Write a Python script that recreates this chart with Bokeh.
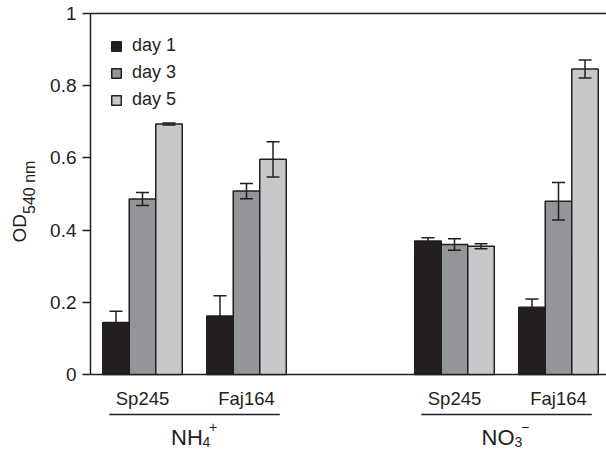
from math import pi
from bokeh.plotting import figure
from bokeh.models import (Range1d, FixedTicker, Whisker, ColumnDataSource, Legend, LegendItem,
                          TeeHead, LinearAxis)
from bokeh.core.properties import value
from bokeh.embed import file_html
from bokeh.resources import INLINE

# ---------------- data ----------------
strains = ["Sp245", "Faj164", "Sp245", "Faj164"]
cluster_pos = [0, 1, 3, 4]
ion_base = ["NH", "NO"]
ion_sub = ["4", "3"]
ion_sup = ["+", "\u2212"]
ion_mid = [0.5, 3.5]
days = ["day 1", "day 3", "day 5"]
day1 = [0.144, 0.162, 0.370, 0.186]
day1_err = [0.031, 0.056, 0.009, 0.023]
day3 = [0.486, 0.508, 0.360, 0.480]
day3_err = [0.018, 0.021, 0.016, 0.052]
day5 = [0.694, 0.596, 0.355, 0.846]
day5_err = [0.003, 0.049, 0.007, 0.025]
y_ticks = [0, 0.2, 0.4, 0.6, 0.8, 1.0]
y_tick_labels = ["0", "0.2", "0.4", "0.6", "0.8", "1"]

# ---------------- layout / style ----------------
colors = ["#231f20", "#939598", "#c7c8ca"]
ink = "#231f20"
FONT = "Liberation Sans"
W, H = 606, 452
X0, PXU = 142.0, 104.0   # pixel of first cluster centre, pixels per x unit
Y0, PYU = 374.0, 361.0   # pixel of y=0, pixels per y unit


def dx(px):
    return (px - X0) / PXU


def dy(py):
    return (Y0 - py) / PYU


bar_w = 0.255
offsets = [-bar_w, 0, bar_w]
axis_x = dx(90)

p = figure(width=W, height=H, x_range=Range1d(dx(0), dx(W)), y_range=Range1d(dy(H), dy(0)),
           output_backend="svg", toolbar_location=None, x_axis_location=None,
           y_axis_location=None, min_border=0)
p.outline_line_color = None
p.grid.visible = False

yaxis = LinearAxis(fixed_location=axis_x, bounds=(0, 1), ticker=FixedTicker(ticks=y_ticks),
                   major_label_overrides={t: l for t, l in zip(y_ticks, y_tick_labels)},
                   major_tick_out=8, major_tick_in=0, minor_tick_line_color=None,
                   major_tick_line_width=1.5, major_tick_line_color=ink,
                   axis_line_width=1.5, axis_line_color=ink, major_label_standoff=6,
                   major_label_text_font=FONT, major_label_text_font_size="19px",
                   major_label_text_color=ink)
p.add_layout(yaxis, "left")

# top frame line and baseline
p.segment(x0=[axis_x, axis_x], y0=[0, 1], x1=[dx(W), dx(W)], y1=[0, 1],
          line_color=ink, line_width=1.5)

series = [(day1, day1_err), (day3, day3_err), (day5, day5_err)]
items = []
for i, (vals, errs) in enumerate(series):
    src = ColumnDataSource(dict(
        x=[c + offsets[i] for c in cluster_pos], top=vals,
        upper=[v + e for v, e in zip(vals, errs)], lower=[v - e for v, e in zip(vals, errs)]))
    r = p.vbar(x="x", top="top", width=bar_w, bottom=0, source=src,
               fill_color=colors[i], line_color=ink, line_width=1.5)
    items.append(LegendItem(label=days[i], renderers=[r]))
    w = Whisker(source=src, base="x", upper="upper", lower="lower", line_color=ink, line_width=1.5,
                upper_head=TeeHead(size=13, line_color=ink, line_width=1.5),
                lower_head=TeeHead(size=13, line_color=ink, line_width=1.5), level="overlay")
    p.add_layout(w)

legend = Legend(items=items, location=(110, 342), glyph_width=12, glyph_height=12,
                label_standoff=10, spacing=6, padding=0, margin=0, border_line_color=None,
                background_fill_alpha=0, label_text_font=FONT, label_text_font_size="18px",
                label_text_color=ink, label_height=18)
p.add_layout(legend)

txt = dict(text_font=value(FONT), text_color=ink, text_baseline="alphabetic")

# strain labels
p.text(x=cluster_pos, y=[dy(398)] * len(cluster_pos), text=strains, text_align="center",
       text_font_size=value("18.5px"), **txt)

# group underlines
p.segment(x0=[m - 0.82 for m in ion_mid], y0=[dy(414)] * 2,
          x1=[m + 0.82 for m in ion_mid], y1=[dy(414)] * 2, line_color=ink, line_width=1.5)

# ion labels with subscript / superscript
ion_start = [-23.5, -25.0]   # px from group middle
ion_base_w = [31.5, 33.0]    # px width of base text
p.text(x=[m + s / PXU for m, s in zip(ion_mid, ion_start)], y=[dy(437)] * 2, text=ion_base,
       text_align="left", text_font_size=value("22px"), **txt)
p.text(x=[m + (s + bw) / PXU for m, s, bw in zip(ion_mid, ion_start, ion_base_w)],
       y=[dy(441)] * 2, text=ion_sub, text_align="left", text_font_size=value("14px"), **txt)
p.text(x=[m + (s + bw + 6.5) / PXU for m, s, bw in zip(ion_mid, ion_start, ion_base_w)],
       y=[dy(426)] * 2, text=ion_sup, text_align="left", text_font_size=value("14px"), **txt)

# y axis label OD_540 nm
p.text(x=[dx(19)], y=[dy(242)], text=["OD"], angle=pi / 2, text_align="left",
       text_font_size=value("19px"), **txt)
p.text(x=[dx(28.5)], y=[dy(213.5)], text=["540 nm"], angle=pi / 2, text_align="left",
       text_font_size=value("16px"), **txt)

open("out.html", "w").write(file_html(p, INLINE))
